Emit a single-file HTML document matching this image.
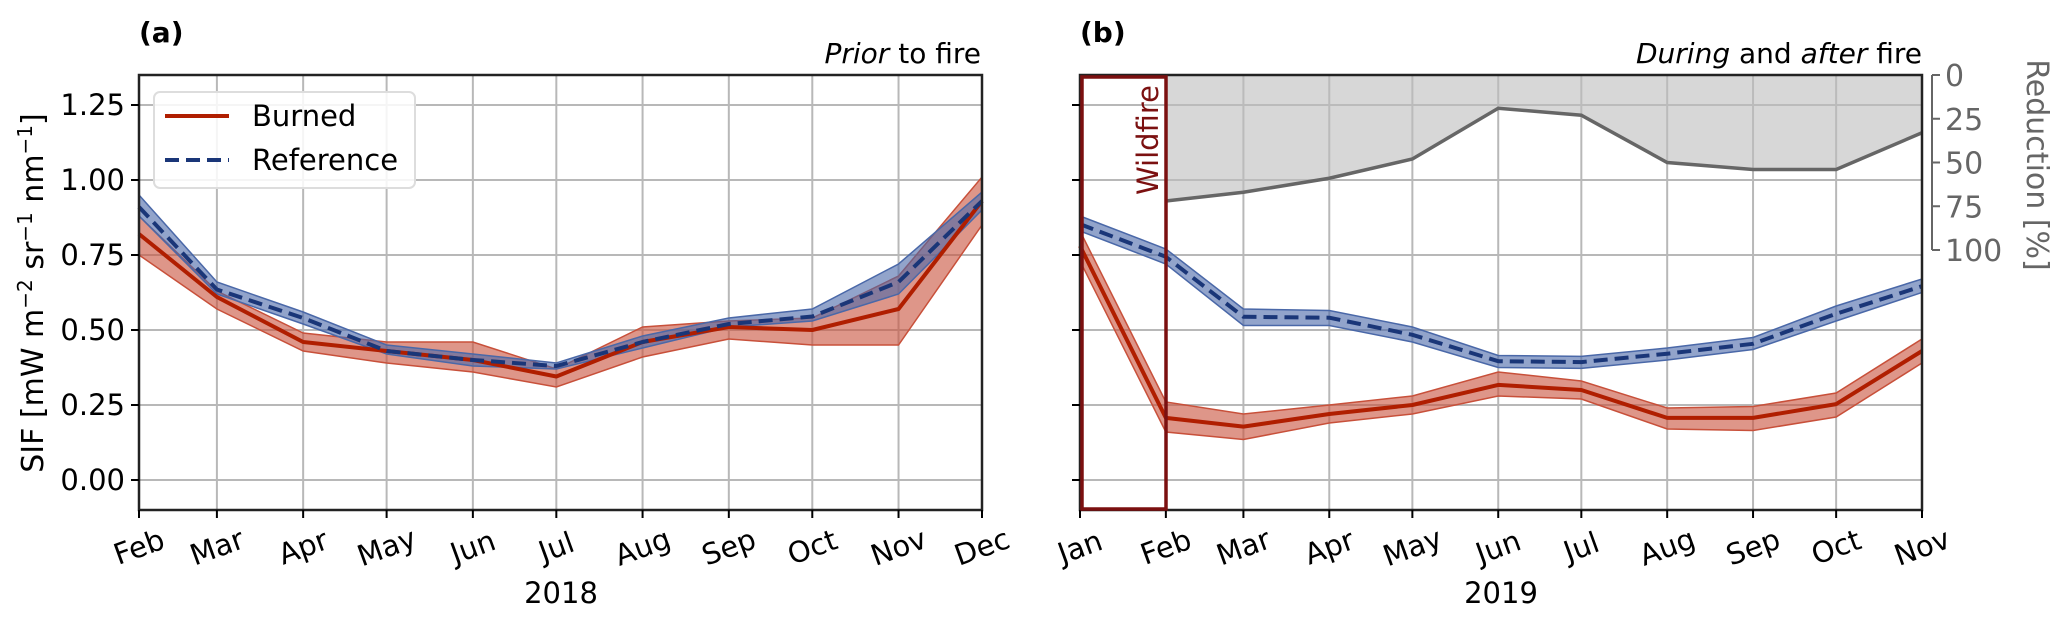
<!DOCTYPE html>
<html><head><meta charset="utf-8"><style>
html,body{margin:0;padding:0;background:#fff;}
svg{display:block;font-family:"DejaVu Sans","Liberation Sans",sans-serif;}
</style></head><body>
<svg id="chart" width="2067" height="621" viewBox="0 0 2067 621" xmlns="http://www.w3.org/2000/svg">
</svg>
<script>
// ---- Data ----
const monthsA = ["Feb","Mar","Apr","May","Jun","Jul","Aug","Sep","Oct","Nov","Dec"];
const daysA = [0,28,59,89,120,150,181,212,242,273,303];
const burnedA = [0.82,0.61,0.46,0.43,0.40,0.345,0.46,0.51,0.50,0.57,0.93];
const burnedALo = [0.75,0.57,0.43,0.39,0.36,0.31,0.41,0.47,0.45,0.45,0.85];
const burnedAHi = [0.88,0.63,0.49,0.46,0.46,0.37,0.51,0.53,0.54,0.68,1.01];
const refA = [0.91,0.635,0.54,0.43,0.40,0.38,0.46,0.52,0.545,0.66,0.93];
const refALo = [0.88,0.62,0.52,0.42,0.38,0.37,0.44,0.51,0.53,0.62,0.90];
const refAHi = [0.95,0.66,0.56,0.45,0.42,0.39,0.48,0.54,0.57,0.72,0.96];

const monthsB = ["Jan","Feb","Mar","Apr","May","Jun","Jul","Aug","Sep","Oct","Nov"];
const daysB = [0,31,59,90,120,151,181,212,243,273,304];
const burnedB = [0.78,0.207,0.178,0.22,0.25,0.317,0.30,0.207,0.207,0.253,0.43];
const burnedBLo = [0.73,0.16,0.135,0.19,0.22,0.28,0.27,0.17,0.165,0.21,0.39];
const burnedBHi = [0.83,0.26,0.22,0.25,0.28,0.36,0.33,0.24,0.245,0.29,0.47];
const refB = [0.853,0.744,0.544,0.541,0.484,0.396,0.393,0.421,0.454,0.554,0.646];
const refBLo = [0.83,0.72,0.515,0.515,0.46,0.375,0.372,0.40,0.435,0.53,0.625];
const refBHi = [0.88,0.77,0.57,0.565,0.51,0.415,0.412,0.44,0.475,0.58,0.67];
const reductionDays = [31,59,90,120,151,181,212,243,273,304];
const reduction = [72,67,59,48,19,23,50,54,54,33];

const yTicks = [0,0.25,0.5,0.75,1.0,1.25];
const yTickLabels = ["0.00","0.25","0.50","0.75","1.00","1.25"];
const rTicks = [0,25,50,75,100];

// ---- Layout ----
const NS="http://www.w3.org/2000/svg";
const svg=document.getElementById('chart');
const TOP=75, BOT=510, YMIN=-0.1, YMAX=1.35;
function y(v){return BOT-(v-YMIN)/(YMAX-YMIN)*(BOT-TOP);}
function xA(d){return 139+d*(843/303);}
function xB(d){return 1080+d*(842/304);}
function rY(p){return 75+p*1.75;}
function el(tag,attrs,parent){const e=document.createElementNS(NS,tag);for(const k in attrs)e.setAttribute(k,attrs[k]);(parent||svg).appendChild(e);return e;}
function txt(s,attrs,parent){const e=el('text',attrs,parent);e.textContent=s;return e;}

function panel(xf,L,R,days){
  const g=el('g',{});
  yTicks.forEach(v=>{const l=el('line',{x1:L,x2:R,y1:y(v),y2:y(v),stroke:'#b8b8b8','stroke-width':2},g);
    
    });
  days.forEach(d=>{const l=el('line',{x1:xf(d),x2:xf(d),y1:TOP,y2:BOT,stroke:'#b8b8b8','stroke-width':2},g);
    
    });
  return g;
}
function band(xf,days,lo,hi,fill,stroke,name){
  let d='M'+days.map((dd,i)=>xf(dd)+','+y(hi[i])).join('L');
  for(let i=days.length-1;i>=0;i--) d+='L'+xf(days[i])+','+y(lo[i]);
  const p=el('path',{d:d+'Z',fill:fill,'fill-opacity':0.6,stroke:stroke,'stroke-width':1.5});
  
  
}
function line(xf,days,vals,color,dash,w,name){
  const p=el('polyline',{points:days.map((dd,i)=>xf(dd)+','+y(vals[i])).join(' '),fill:'none',stroke:color,'stroke-width':w,'stroke-dasharray':dash||'none','stroke-linejoin':'round'});
  
  
}
function xlabels(xf,days,months,yearX,year){
  days.forEach((d,i)=>{
    el('line',{x1:xf(d),x2:xf(d),y1:BOT,y2:BOT+8,stroke:'#000','stroke-width':2});
    const t=txt(months[i],{x:xf(d),y:557,'text-anchor':'middle','font-size':29,transform:`rotate(-20 ${xf(d)} 547)`});
    
    
  });
  const t=txt(year,{x:yearX,y:603,'text-anchor':'middle','font-size':29});
  
  
}

// Panel A
panel(xA,139,982,daysA);
band(xA,daysA,burnedALo,burnedAHi,'#c8503a','#c8503a','burned-band-2018');
band(xA,daysA,refALo,refAHi,'#4a68a8','#4a68a8','reference-band-2018');
line(xA,daysA,burnedA,'#b01e00',null,4,'burned-line-2018');
line(xA,daysA,refA,'#1a3678','14 7',4,'reference-line-2018');
el('rect',{x:139,y:TOP,width:843,height:BOT-TOP,fill:'none',stroke:'#222','stroke-width':2.5});
yTicks.forEach((v,i)=>{
  el('line',{x1:131,x2:139,y1:y(v),y2:y(v),stroke:'#000','stroke-width':2});
  const t=txt(yTickLabels[i],{x:125,y:y(v)+10,'text-anchor':'end','font-size':29});
  
  
});
xlabels(xA,daysA,monthsA,561,'2018');

// Panel B
panel(xB,1080,1922,daysB);
(function(){
  let d='M'+xB(reductionDays[0])+','+rY(0);
  reductionDays.forEach((dd,i)=>{d+='L'+xB(dd)+','+rY(reduction[i]);});
  d+='L'+xB(reductionDays[reductionDays.length-1])+','+rY(0)+'Z';
  const p=el('path',{d:d,fill:'#bcbcbc','fill-opacity':0.6,stroke:'none'});
  
  
  const l=el('polyline',{points:reductionDays.map((dd,i)=>xB(dd)+','+rY(reduction[i])).join(' '),fill:'none',stroke:'#666','stroke-width':3.5});
  
  
})();
band(xB,daysB,burnedBLo,burnedBHi,'#c8503a','#c8503a','burned-band-2019');
band(xB,daysB,refBLo,refBHi,'#4a68a8','#4a68a8','reference-band-2019');
line(xB,daysB,burnedB,'#b01e00',null,4,'burned-line-2019');
line(xB,daysB,refB,'#1a3678','14 7',4,'reference-line-2019');
el('rect',{x:1080,y:TOP,width:842,height:BOT-TOP,fill:'none',stroke:'#222','stroke-width':2.5});
yTicks.forEach(v=>{el('line',{x1:1072,x2:1080,y1:y(v),y2:y(v),stroke:'#000','stroke-width':2});});
xlabels(xB,daysB,monthsB,1501,'2019');
el('line',{x1:1932,x2:1932,y1:rY(0),y2:rY(100),stroke:'#666','stroke-width':2});
rTicks.forEach(p=>{
  el('line',{x1:1932,x2:1940,y1:rY(p),y2:rY(p),stroke:'#666','stroke-width':2});
  const t=txt(String(p),{x:1945,y:rY(p)+11,'font-size':30,fill:'#666'});
  
  
});
</script>
<svg width="2067" height="621" style="position:absolute;left:0;top:0" font-family="DejaVu Sans, Liberation Sans, sans-serif">
  <rect x="1082" y="77" width="84" height="432" fill="none" stroke="#7b1010" stroke-width="3.5"/>
  <text x="0" y="0" transform="translate(1158 140) rotate(-90)" text-anchor="middle" font-size="29" fill="#7b1010">Wildfire</text>
  <g>
    <rect x="154" y="92" width="261" height="96" rx="6" fill="#fff" fill-opacity="0.85" stroke="#ddd" stroke-width="2"/>
    <line x1="165" x2="229" y1="116" y2="116" stroke="#b01e00" stroke-width="4"/>
    <text x="252" y="126" font-size="29">Burned</text>
    <line x1="165" x2="229" y1="160" y2="160" stroke="#1a3678" stroke-width="4" stroke-dasharray="14 7"/>
    <text x="252" y="170" font-size="29">Reference</text>
  </g>
  <text x="0" y="0" transform="translate(43 293) rotate(-90)" text-anchor="middle" font-size="30">SIF [mW m<tspan dy="-11" font-size="20">−2</tspan><tspan dy="11"> sr</tspan><tspan dy="-11" font-size="20">−1</tspan><tspan dy="11"> nm</tspan><tspan dy="-11" font-size="20">−1</tspan><tspan dy="11">]</tspan></text>
  <text x="0" y="0" transform="translate(2027 165) rotate(90)" text-anchor="middle" font-size="30" fill="#666">Reduction [%]</text>
  <text x="139" y="42" font-size="28" font-weight="bold">(a)</text>
  <text x="1080" y="42" font-size="28" font-weight="bold">(b)</text>
  <text x="981" y="63" text-anchor="end" font-size="28"><tspan font-style="italic">Prior</tspan> to fire</text>
  <text x="1922" y="63" text-anchor="end" font-size="28"><tspan font-style="italic">During</tspan> and <tspan font-style="italic">after</tspan> fire</text>
</svg>
</body></html>
